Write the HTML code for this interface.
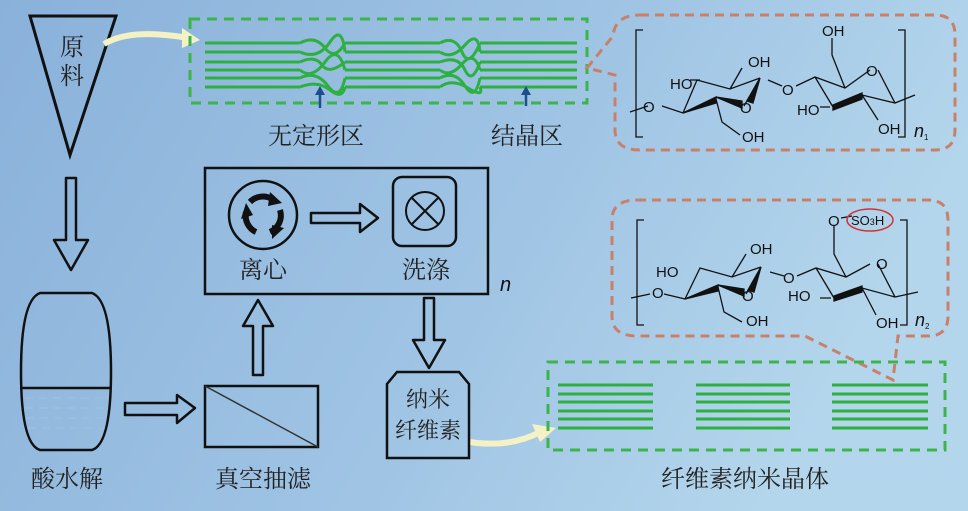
<!DOCTYPE html>
<html><head><meta charset="utf-8"><style>
html,body{margin:0;padding:0;width:968px;height:511px;overflow:hidden}
svg text{font-family:"Liberation Sans","Noto Sans CJK SC",sans-serif}
.cn{font-family:"Liberation Serif","Noto Serif CJK SC",serif;fill:#222}
</style></head><body>
<svg width="968" height="511" viewBox="0 0 968 511" xmlns="http://www.w3.org/2000/svg">
<defs>
<linearGradient id="bg" x1="0" y1="0" x2="1" y2="0.3">
<stop offset="0" stop-color="#8ab1da"/><stop offset="0.6" stop-color="#9fc4e4"/><stop offset="1" stop-color="#b4d6ec"/>
</linearGradient>
</defs>
<rect width="968" height="511" fill="url(#bg)"/>

<polygon points="30,16 116,16 70,155" fill="none" stroke="#111" stroke-width="3"/>
<text x="72" y="55" class="cn" font-size="24" text-anchor="middle">原</text>
<text x="72" y="84" class="cn" font-size="24" text-anchor="middle">料</text>
<path d="M104,44 Q130,28 188,38" fill="none" stroke="#f4f2c4" stroke-width="6"/>
<polygon points="182,28 200,40 182,48" fill="#f4f2c4"/>
<path d="M470,442 Q510,448 540,432" fill="none" stroke="#f4f2c4" stroke-width="6"/>
<polygon points="532,424 556,428 540,442" fill="#f4f2c4"/>

<rect x="190" y="19" width="397" height="84" fill="none" stroke="#3bb54a" stroke-width="3" stroke-dasharray="10,7"/>
<g stroke="#2eb040" stroke-width="3" fill="none">
<path d="M205,43H300 M345,43H440 M480,43H577"/>
<path d="M205,52H300 M345,52H440 M480,52H577"/>
<path d="M205,62H300 M345,62H440 M480,62H577"/>
<path d="M205,70H300 M345,70H440 M480,70H577"/>
<path d="M205,78H300 M345,78H440 M480,78H577"/>
<path d="M205,87H300 M345,87H440 M480,87H577"/>
<path d="M300,43 Q315,35 325,48 T345,43 M300,52 Q318,60 330,42 T345,52 M300,62 Q315,55 322,65 T345,62 M300,70 Q312,80 325,62 T345,70 M300,78 Q316,70 328,86 T345,78 M300,87 Q318,80 330,90 T345,87"/>
<path d="M440,43 Q455,35 462,52 T480,43 M440,52 Q452,60 465,45 T480,52 M440,62 Q458,55 465,70 T480,62 M440,70 Q450,78 462,64 T480,70 M440,78 Q455,70 465,86 T480,78 M440,87 Q452,78 468,88 T480,87"/>
</g>
<g fill="#1d4f8c" stroke="#1d4f8c" stroke-width="2.5">
<line x1="320" y1="108" x2="320" y2="92"/><polygon points="315,95 320,86 325,95" stroke="none"/>
<line x1="526" y1="106" x2="526" y2="92"/><polygon points="521,95 526,86 531,95" stroke="none"/>
</g>
<text x="316" y="144" class="cn" font-size="24" text-anchor="middle">无定形区</text>
<text x="527" y="144" class="cn" font-size="24" text-anchor="middle">结晶区</text>

<path d="M640,15 H935 Q955,15 955,35 V130 Q955,150 935,150 H640 Q615,150 615,130 V75 L587,68 L613,36 Q615,15 640,15 Z" fill="none" stroke="#c8806a" stroke-width="3" stroke-dasharray="9,6"/>

<g stroke="#111" stroke-width="1.3" fill="none">
<path d="M643,30H636V137H643 M898,30H905V137H898"/>
<path d="M630,112L648,106 M662,106L683,113 L697,80 L730,89 L760,78 M683,113 L716,99 M744,106 L760,78 M716,99 L722,122 L740,135 M730,89 L742,68 M700,80 L690,80 M768,80 L782,86 M796,86 L815,77 L845,88 L870,70 M845,88 L832,55 L832,38 M878,70 L895,103 L915,95 M895,103 L862,95 L833,107 M862,95 L878,120 M833,107 L815,77 M830,107 L820,107"/>
<polygon points="683,113 716,97 716,103" fill="#111"/>
<polygon points="716,97 742,101 742,108" fill="#111"/>
<polygon points="760,78 747,101 753,103" fill="#111"/>
<polygon points="833,105 862,93 862,99 833,110" fill="#111"/>
</g>
<g font-size="15" fill="#111">
<text x="643" y="112">O</text><text x="670" y="89">HO</text><text x="748" y="67">OH</text>
<text x="740" y="113">O</text><text x="742" y="142">OH</text><text x="782" y="95">O</text>
<text x="822" y="36">OH</text><text x="866" y="76">O</text><text x="797" y="115">HO</text>
<text x="878" y="134">OH</text>
</g>
<text x="914" y="137" font-size="18" font-style="italic" fill="#111">n</text><text x="924" y="140" font-size="8" fill="#111">1</text>

<path d="M637,200 H928 Q948,200 948,220 V316 Q948,336 928,336 H898 L893,380 L805,336 H637 Q612,336 612,316 V220 Q612,200 637,200 Z" fill="none" stroke="#c8806a" stroke-width="3" stroke-dasharray="9,6"/>

<g stroke="#111" stroke-width="1.3" fill="none">
<path d="M644,220H637V325H644 M900,220H907V325H900"/>
<path d="M631,298L650,294 M664,294L685,299 L700,268 L732,277 L761,267 M685,299 L718,287 M746,294 L761,267 M718,287 L724,312 L742,322 M732,277 L746,254 M770,272 L784,276 M797,276 L816,268 L846,277 L870,264 M846,277 L834,254 L834,225 M878,264 L895,297 L918,292 M895,297 L862,288 L834,298 M862,288 L876,315 M834,298 L816,268 M831,298 L820,298 M841,218 L852,216"/>
<polygon points="685,299 718,285 718,291" fill="#111"/>
<polygon points="718,285 744,289 744,296" fill="#111"/>
<polygon points="761,267 748,290 754,292" fill="#111"/>
<polygon points="834,296 862,286 862,292 834,301" fill="#111"/>
</g>
<ellipse cx="870" cy="220" rx="23" ry="11" fill="none" stroke="#d0323a" stroke-width="1.5"/>
<g font-size="15" fill="#111">
<text x="652" y="298">O</text><text x="656" y="277">HO</text><text x="750" y="254">OH</text>
<text x="742" y="301">O</text><text x="746" y="326">OH</text><text x="783" y="283">O</text>
<text x="828" y="226">O</text><text x="851" y="225" font-size="13">SO<tspan font-size="9">3</tspan>H</text>
<text x="876" y="269">O</text><text x="788" y="301">HO</text><text x="876" y="328">OH</text>
</g>
<text x="915" y="326" font-size="18" font-style="italic" fill="#111">n</text><text x="925" y="329" font-size="8" fill="#111">2</text>

<rect x="548" y="362" width="397" height="88" fill="none" stroke="#3bb54a" stroke-width="3" stroke-dasharray="10,7"/>
<g stroke="#2eb040" stroke-width="3">
<path d="M558,385H653M696,385H790M832,385H928"/>
<path d="M558,394H653M696,394H790M832,394H928"/>
<path d="M558,402H653M696,402H790M832,402H928"/>
<path d="M558,411H653M696,411H790M832,411H928"/>
<path d="M558,419H653M696,419H790M832,419H928"/>
<path d="M558,428H653M696,428H790M832,428H928"/>
</g>
<text x="745" y="487" class="cn" font-size="24" text-anchor="middle">纤维素纳米晶体</text>

<g fill="none" stroke="#111" stroke-width="2.5" stroke-linejoin="round">
<path d="M66,178H76V240H88L71,270L54,240H66Z"/>
<path d="M125,403H177V395L195,408L177,423V415H125Z"/>
<path d="M253,375V326H243L258,300L273,326H263V375Z"/>
<path d="M311,213H360V204L378,218L360,232V223H311Z"/>
<path d="M424,298H434V340H445L429,368L413,340H424Z"/>
</g>

<path d="M40,293 H92 Q111,300 111,372 Q111,444 92,450 H40 Q21,444 21,372 Q21,300 40,293 Z" fill="none" stroke="#111" stroke-width="2.5"/>
<line x1="21" y1="388" x2="111" y2="388" stroke="#111" stroke-width="2.5"/>
<g stroke="#9cc0de" stroke-width="1.5" stroke-dasharray="8,6">
<line x1="25" y1="398" x2="108" y2="398"/><line x1="25" y1="408" x2="108" y2="408"/><line x1="26" y1="418" x2="106" y2="418"/><line x1="28" y1="428" x2="104" y2="428"/>
</g>
<text x="67" y="487" class="cn" font-size="24" text-anchor="middle">酸水解</text>

<rect x="205" y="386" width="113" height="61" fill="none" stroke="#111" stroke-width="2.5"/>
<line x1="205" y1="386" x2="318" y2="447" stroke="#333" stroke-width="1.5"/>
<text x="263" y="487" class="cn" font-size="24" text-anchor="middle">真空抽滤</text>

<rect x="205" y="168" width="283" height="126" fill="none" stroke="#111" stroke-width="2.5"/>
<text x="500" y="291" font-size="20" font-style="italic" fill="#111">n</text>
<circle cx="263" cy="215" r="34" fill="none" stroke="#111" stroke-width="2.5"/>
<g fill="none" stroke="#111" stroke-width="6">
<path d="M250,202 A18,18 0 0 1 272,199"/>
<path d="M280,210 A18,18 0 0 1 270,232"/>
<path d="M256,232 A18,18 0 0 1 246,212"/>
</g>
<g fill="#111"><polygon points="270,192 282,203 268,206"/><polygon points="284,228 272,239 272,225"/><polygon points="241,219 246,203 253,215"/></g>
<text x="263" y="278" class="cn" font-size="24" text-anchor="middle">离心</text>
<rect x="393" y="177" width="63" height="69" rx="9" fill="none" stroke="#111" stroke-width="2.5"/>
<circle cx="425" cy="211" r="19" fill="none" stroke="#111" stroke-width="2"/>
<path d="M412,198L438,224M438,198L412,224" stroke="#111" stroke-width="2"/>
<text x="426" y="278" class="cn" font-size="24" text-anchor="middle">洗涤</text>

<path d="M397,372H459L469,384V458H387V384Z" fill="none" stroke="#111" stroke-width="2.5"/>
<text x="428" y="407" class="cn" font-size="22" text-anchor="middle">纳米</text>
<text x="428" y="438" class="cn" font-size="22" text-anchor="middle">纤维素</text>
</svg>
</body></html>
